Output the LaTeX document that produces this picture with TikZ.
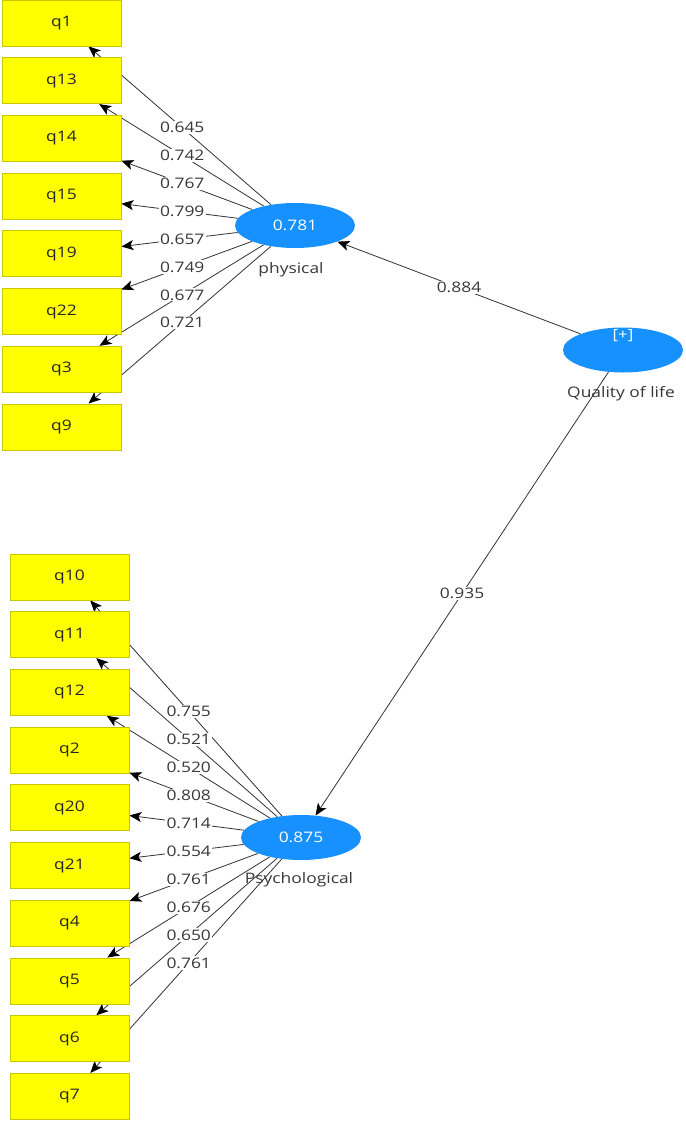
\documentclass[tikz,border=0pt]{standalone}
\usepackage{fontspec}
\newfontfamily\lbl{Open Sans}[FakeStretch=1.2]
\usetikzlibrary{calc,arrows.meta,shapes.geometric}
\pgfdeclarelayer{bg}\pgfdeclarelayer{edges}\pgfdeclarelayer{labels}
\pgfsetlayers{bg,edges,labels,main}
\definecolor{boxy}{HTML}{FFFF00}
\definecolor{boxb}{HTML}{C8C800}
\definecolor{lvblue}{HTML}{1791FF}
\definecolor{ln}{HTML}{333333}
\definecolor{tx}{HTML}{383838}
\begin{document}
\begin{tikzpicture}[x=1pt,y=-1pt,
  ind/.style={draw=boxb, fill=boxy, minimum width=119pt, minimum height=46pt, inner sep=0pt,
    font=\lbl\fontsize{14.5}{16}\selectfont, text=black!85, line width=0.8pt},
  lv/.style={ellipse, fill=lvblue, minimum width=120pt, minimum height=45pt, inner sep=0pt,
    text=white, font=\lbl\fontsize{14.5}{16}\selectfont},
  lvname/.style={text=tx, font=\lbl\fontsize{14.5}{16}\selectfont, inner sep=0pt},
  elab/.style={fill=white, inner sep=1.2pt, text=tx, font=\lbl\fontsize{14.5}{16}\selectfont},
  ld/.style={draw=ln, line width=0.8pt, -{Stealth[length=12pt,width=10pt,inset=3pt,fill=black,color=black]}}
]
\useasboundingbox (0,0) rectangle (685,1121);
\begin{pgfonlayer}{bg}
  \fill[white] (0,0) rectangle (685,1121);
\end{pgfonlayer}

% latent variables
\node[lv] (phys) at (295,225.5) {0.781};
\node[lvname] (physn) at (291,270) {physical};
\node[lv] (psy) at (301,837.5) {0.875};
\node[lvname] (psyn) at (299,880) {Psychological};
\node[lv] (qol) at (623,350) {};
\node[text=white, font=\lbl\fontsize{14}{16}\selectfont, inner sep=0pt] (qolp) at (623,336) {[+]};
\node[lvname] (qoln) at (621,394) {Quality of life};

% indicators, top block
\foreach \n [count=\i from 0] in {q1,q13,q14,q15,q19,q22,q3,q9}
  \node[ind] (\n) at (61.5,23+57.7*\i) {\n};
% indicators, bottom block
\foreach \n [count=\i from 0] in {q10,q11,q12,q2,q20,q21,q4,q5,q6,q7}
  \node[ind] (\n) at (69.5,577+57.7*\i) {\n};

% outer loadings, physical
\foreach \n/\v in {q1/0.645,q13/0.742,q14/0.767,q15/0.799,q19/0.657,q22/0.749,q3/0.677,q9/0.721}{
  \begin{pgfonlayer}{edges}
    \draw[ld] (phys) -- (\n);
  \end{pgfonlayer}
  \begin{pgfonlayer}{labels}
    \node[elab] (l\n) at ($(phys.center)!0.483!(\n.center)$) {\v};
  \end{pgfonlayer}
}
% outer loadings, psychological
\foreach \n/\v in {q10/0.755,q11/0.521,q12/0.520,q2/0.808,q20/0.714,q21/0.554,q4/0.761,q5/0.676,q6/0.650,q7/0.761}{
  \begin{pgfonlayer}{edges}
    \draw[ld] (psy) -- (\n);
  \end{pgfonlayer}
  \begin{pgfonlayer}{labels}
    \node[elab] (l\n) at ($(psy.center)!0.485!(\n.center)$) {\v};
  \end{pgfonlayer}
}

% structural paths
\begin{pgfonlayer}{edges}
  \draw[ld] (qol) -- (phys);
  \draw[ld] (qol) -- (psy);
\end{pgfonlayer}
\begin{pgfonlayer}{labels}
  \node[elab] (lphys) at ($(qol.center)!0.5!(phys.center)$) {0.884};
  \node[elab] (lpsy) at ($(qol.center)!0.5!(psy.center)$) {0.935};
\end{pgfonlayer}
\end{tikzpicture}
\end{document}
